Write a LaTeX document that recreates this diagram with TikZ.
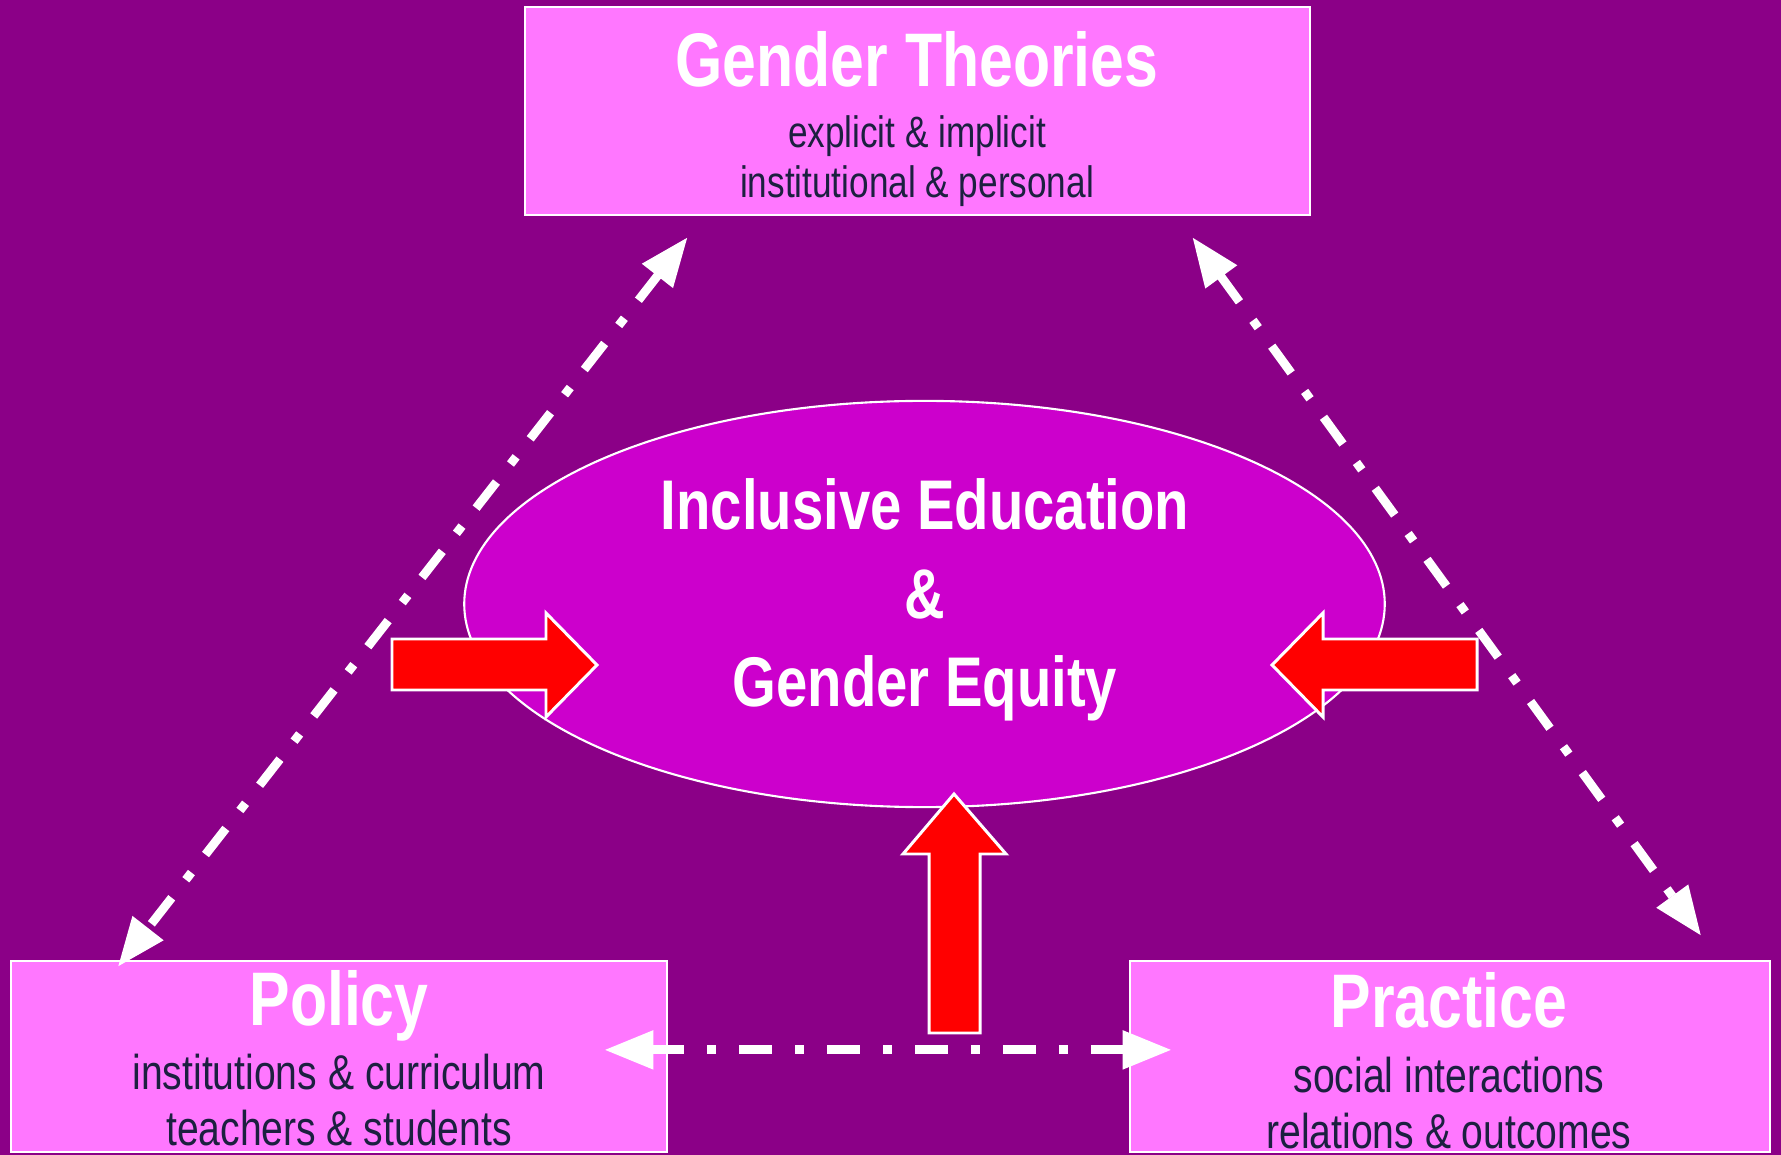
\documentclass[tikz,border=0pt]{standalone}
\usepackage{fontspec}
\setmainfont{Liberation Sans}[FakeStretch=0.8]
\usetikzlibrary{arrows.meta}
\usetikzlibrary{shapes.geometric}
\definecolor{bgpurple}{RGB}{139,0,135}
\definecolor{boxpink}{RGB}{255,119,255}
\definecolor{ovalmagenta}{RGB}{204,0,204}
\definecolor{subnavy}{RGB}{28,32,64}
\newcommand{\headfont}{\bfseries\fontsize{21.6}{26}\selectfont}
\newcommand{\ovalfont}{\bfseries\fontsize{20}{24}\selectfont}
\tikzset{
  pinkbox/.style={draw=white, fill=boxpink, line width=0.6pt, inner sep=0pt},
  headtext/.style={text=white, font=\headfont, anchor=base, inner sep=0pt},
  subtext/.style={text=subnavy, anchor=base, inner sep=0pt},
  linkline/.style={white, line width=2.5pt, dash pattern=on 9.4pt off 6.5pt on 2.6pt off 6.5pt},
  bigtip/.tip={Triangle[length=14pt,width=10.5pt]},
  redarrow/.style={fill=red, draw=white, line width=0.85pt, line join=miter}
}

\begin{document}
\begin{tikzpicture}[x=0.01cm,y=-0.01cm]
    \useasboundingbox (0,0) rectangle (1781,1155);
    \fill[bgpurple] (0,0) rectangle (1781,1155);

    % the three boxes
    \node[pinkbox, minimum width=7.85cm, minimum height=2.08cm] (theory) at (917.5,111) {};
    \node[pinkbox, minimum width=6.56cm, minimum height=1.91cm] (policy) at (339,1056.5) {};
    \node[pinkbox, minimum width=6.40cm, minimum height=1.91cm] (practice) at (1450,1056.5) {};

    % oval in the middle
    \node[ellipse, draw=white, fill=ovalmagenta, line width=0.6pt, inner sep=0pt,
          minimum width=9.2cm, minimum height=4.06cm] (oval) at (924.5,604) {};

    % texts
    \node[headtext] (theorytitle) at (917,87) {Gender Theories};
    \node[subtext, font=\fontsize{12.5}{15}\selectfont] (theoryA) at (917,148) {explicit \& implicit};
    \node[subtext, font=\fontsize{12.5}{15}\selectfont] (theoryB) at (917,198) {institutional \& personal};

    \node[headtext] (policytitle) at (339,1025) {Policy};
    \node[subtext, font=\fontsize{13.9}{16}\selectfont] (policyA) at (339,1089) {institutions \& curriculum};
    \node[subtext, font=\fontsize{13.9}{16}\selectfont] (policyB) at (339,1145) {teachers \& students};

    \node[headtext] (practicetitle) at (1449,1027) {Practice};
    \node[subtext, font=\fontsize{13.9}{16}\selectfont] (practiceA) at (1449,1092) {social interactions};
    \node[subtext, font=\fontsize{13.9}{16}\selectfont] (practiceB) at (1449,1148) {relations \& outcomes};

    \node[headtext, font=\ovalfont] (ovalA) at (925,530) {Inclusive Education};
    \node[headtext, font=\ovalfont] (ovalB) at (925,619) {\&};
    \node[headtext, font=\ovalfont] (ovalC) at (925,706) {Gender Equity};

    % ends of the links
    \coordinate (theoryL) at ([shift={(164,21)}]theory.south west);
    \coordinate (theoryR) at ([shift={(-119,21)}]theory.south east);
    \coordinate (policyT) at ([shift={(108,7)}]policy.north west);
    \coordinate (policyR) at ([shift={(-64,90)}]policy.north east);
    \coordinate (practiceT) at ([shift={(-70,-24)}]practice.north east);
    \coordinate (practiceL) at ([shift={(43,90)}]practice.north west);

    \draw[linkline, bigtip-bigtip] (theoryL) -- (policyT);
    \draw[linkline, bigtip-bigtip] (theoryR) -- (practiceT);
    \draw[linkline, bigtip-bigtip] (policyR) -- (practiceL);

    % red arrows into the oval
    \draw[redarrow] (392,639) -- (546,639) -- (546,613) -- (597,665) -- (546,717) -- (546,690) -- (392,690) -- cycle;
    \draw[redarrow] (1477,639) -- (1323,639) -- (1323,613) -- (1272,665) -- (1323,717) -- (1323,690) -- (1477,690) -- cycle;
    \draw[redarrow] (929,1033) -- (929,854) -- (903,854) -- (954,794) -- (1006,854) -- (980,854) -- (980,1033) -- cycle;
\end{tikzpicture}
\end{document}
